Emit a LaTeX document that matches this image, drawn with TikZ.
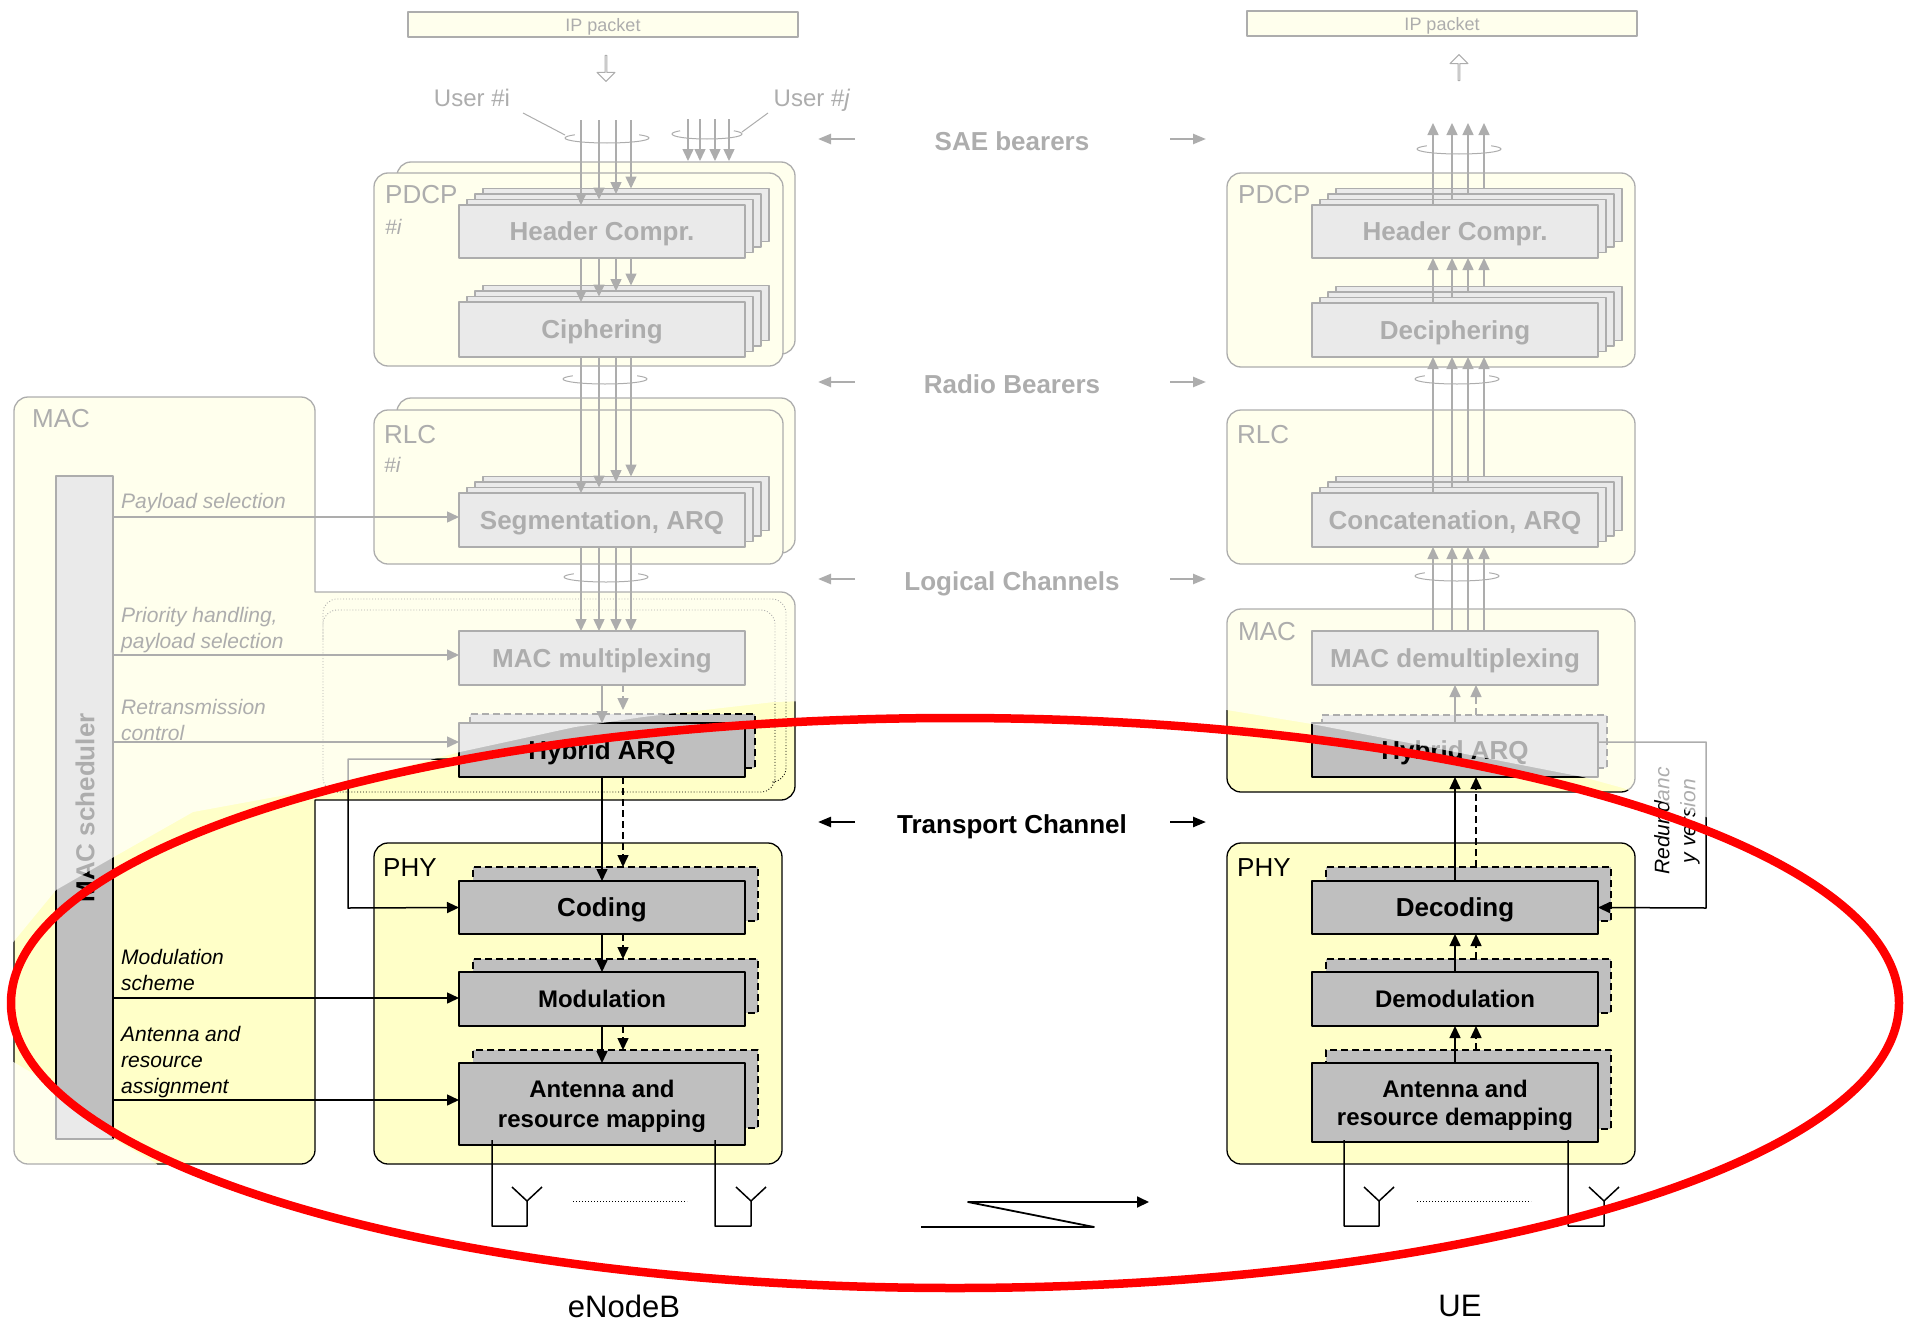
\documentclass[tikz,border=0pt]{standalone}
\usepackage{fontspec}
\setmainfont{Liberation Sans}
\usetikzlibrary{arrows.meta,shapes.arrows}
\definecolor{boxyellow}{HTML}{FFFFC8}
\definecolor{boxgray}{HTML}{BFBFBF}
\tikzset{
  layerbox/.style={draw,fill=boxyellow,line width=1.3pt,rounded corners=14pt},
  blk/.style={draw,fill=boxgray,line width=1.5pt,inner sep=0pt,outer sep=0pt,anchor=north west,minimum width=286pt,align=center,text depth=0pt,font=\fontsize{26}{31}\selectfont\bfseries},
  blksmall/.style={blk,font=\fontsize{24}{30}\selectfont\bfseries},
  backblk/.style={blk,dashed,dash pattern=on 7pt off 4pt},
  laylabel/.style={anchor=west,inner sep=0pt,font=\fontsize{26}{30}\selectfont},
  sidetext/.style={anchor=west,inner sep=0pt,align=left,font=\fontsize{21}{26}\selectfont\itshape},
  band/.style={inner sep=0pt,text depth=0pt,font=\fontsize{26}{30}\selectfont\bfseries},
  bandarr/.style={line width=2.4pt,-{Triangle[length=13pt,width=10pt]}},
  conn/.style={line width=1.5pt},
  dconn/.style={conn,dashed,dash pattern=on 7pt off 4pt},
  ipbox/.style={draw,fill=boxyellow,line width=1.2pt,inner sep=0pt,outer sep=0pt,minimum width=390pt,minimum height=25pt,text depth=0pt,font=\fontsize{18}{22}\selectfont},
  fatarrow/.style={single arrow,draw,line width=1pt,minimum width=18pt,minimum height=26pt,single arrow head extend=5pt,inner sep=0pt},
  cardtxt/.style={inner sep=0pt,text depth=0pt,font=\fontsize{24}{28}\selectfont}
}
% one block with three cards behind it
\newcommand{\stackblk}[5]{%
  \foreach \i in {3,2,1,0} {
    \node[blk,minimum height=#4pt] (#1\i) at ({#2+8*\i},{#3-5.5*\i}) {\ifnum\i=0 #5\fi};
  }%
}
% open loop round a bundle of channels
\newcommand{\loopring}[2]{%
  \draw[line width=1pt] ({#1+42},#2) arc (0:180:42 and 5);
  \draw[line width=1pt] ({#1+42},#2) arc (0:-40:42 and 5);
  \draw[line width=1pt] ({#1-42},#2) arc (180:220:42 and 5);
}
\begin{document}
\begin{tikzpicture}[x=1pt,y=-1pt,>={Triangle[length=12pt,width=11pt]},line join=round]
  \useasboundingbox (0,0) rectangle (1914,1322);
  \def\gx{623} \def\hx{1476} % dashed path, both sides

  % ---- eNodeB layers
  \node[ipbox,anchor=north west] (ipl) at (408,12) {IP packet};
  \node[fatarrow,rotate=-90] (ipldn) at (606,68) {};
  \draw[layerbox] (397,300) -- (397,162) -- (795,162) -- (795,354) -- (770,354);
  \draw[layerbox] (374,173) rectangle (783,366);
  \draw[layerbox] (397,450) -- (397,398) -- (795,398) -- (795,553) -- (770,553);
  \draw[layerbox] (374,410) rectangle (783,564);
  \draw[layerbox] (14,700) -- (14,397) -- (315,397) -- (315,500) [sharp corners] -- (315,592) -- (400,592) [rounded corners=14pt] -- (795,592) -- (795,800) -- (500,800) [sharp corners] -- (315,800) -- (315,900) [rounded corners=14pt] -- (315,1164) -- (14,1164) -- cycle;
  \draw[line width=.9pt,dotted,rounded corners=14pt] (323,792) -- (323,610) -- (775,610) -- (775,792) -- cycle;
  \draw[line width=.9pt,dotted,rounded corners=14pt] (323,640) -- (323,599) -- (786,599) -- (786,782) -- (775,782);
  \draw[layerbox] (374,843) rectangle (782,1164);
  \node[draw,fill=boxgray,line width=1.5pt,inner sep=0pt,outer sep=0pt,anchor=north west,minimum width=57pt,minimum height=663pt] (sched) at (56,476) {};
  \node[band,rotate=90] (schedtxt) at (85,808) {MAC scheduler};

  % ---- UE layers
  \node[ipbox,anchor=north west] (ipr) at (1247,11) {IP packet};
  \node[fatarrow,rotate=90] (ipru) at (1459,68) {};
  \draw[layerbox] (1227,173) rectangle (1635,367);
  \draw[layerbox] (1227,410) rectangle (1635,564);
  \draw[layerbox] (1227,609) rectangle (1635,792);
  \draw[layerbox] (1227,843) rectangle (1635,1164);

  % ---- layer names
  \foreach \n/\x/\y/\t in {pdcpl/385/195/PDCP,rlcl/384/435/RLC,macl/32/419/MAC,phyl/383/868/PHY,pdcpr/1238/195/PDCP,rlcr/1237/435/RLC,macr/1238/632/MAC,phyr/1237/868/PHY}
    \node[laylabel] (\n) at (\x,\y) {\t};
  \node[sidetext] (ibl) at (385,227) {\#i};
  \node[sidetext] (ibr) at (384,465) {\#i};

  % ---- blocks
  \stackblk{hdr}{459}{205}{53}{Header Compr.}
  \stackblk{cip}{459}{302}{55}{Ciphering}
  \stackblk{seg}{459}{493}{54}{Segmentation, ARQ}
  \stackblk{uhdr}{1312}{205}{53}{Header Compr.}
  \stackblk{udc}{1312}{303}{54}{Deciphering}
  \stackblk{useg}{1312}{493}{54}{Concatenation, ARQ}
  \node[blk,minimum height=54pt] (mux) at (459,631) {MAC multiplexing};
  \node[blk,minimum height=54pt] (udmx) at (1312,631) {MAC demultiplexing};
  \foreach \n/\x/\y/\h in {bharq/470/714/54,bcod/473/867/54,bmod/473/959/54,bant/473/1050/78,buharq/1322/715/53,bdec/1326/867/54,bdem/1326/959/54,buant/1326/1050/79}
    \node[backblk,minimum width=285pt,minimum height=\h pt] (\n) at (\x,\y) {};
  \node[blk,minimum height=54pt] (harq) at (459,723) {Hybrid ARQ};
  \node[blk,minimum height=53pt] (cod) at (459,881) {Coding};
  \node[blksmall,minimum height=54pt] (modu) at (459,972) {Modulation};
  \node[blksmall,minimum height=82pt] (ant) at (459,1063) {Antenna and\\resource mapping};
  \node[blk,minimum height=54pt] (uharq) at (1312,723) {Hybrid ARQ};
  \node[blk,minimum height=53pt] (dec) at (1312,881) {Decoding};
  \node[blksmall,minimum height=54pt] (dem) at (1312,972) {Demodulation};
  \node[blksmall,minimum height=79pt,font=\fontsize{24}{28}\selectfont\bfseries] (uant) at (1312,1063) {Antenna and\\resource demapping};

  % ---- channel bundles
  \foreach \i/\x in {0/581,1/599,2/616,3/631} {
    \draw[->,conn] (\x,120) -- (\x,0 |- hdr\i.north);
    \draw[->,conn] (\x,0 |- hdr0.south) -- (\x,0 |- cip\i.north);
    \draw[->,conn] (\x,0 |- cip0.south) -- (\x,0 |- seg\i.north);
    \draw[->,conn] (\x,0 |- seg0.south) -- (\x,0 |- mux.north);
  }
  \foreach \x in {688,700,715,729}
    \draw[->,conn] (\x,119) -- (\x,161);
  \foreach \i/\x in {0/1433,1/1452,2/1468,3/1484} {
    \draw[->,conn] (\x,0 |- uhdr\i.north) -- (\x,123);
    \draw[->,conn] (\x,0 |- udc\i.north) -- (\x,0 |- uhdr0.south);
    \draw[->,conn] (\x,0 |- useg\i.north) -- (\x,0 |- udc0.south);
    \draw[->,conn] (\x,0 |- udmx.north) -- (\x,0 |- useg0.south);
  }
  \loopring{607}{138} \loopring{605}{379} \loopring{606}{577}
  \draw[line width=1pt] (742,134) arc (0:180:35 and 5);
  \draw[line width=1pt] (742,134) arc (0:-40:35 and 5);
  \draw[line width=1pt] (672,134) arc (180:220:35 and 5);
  \loopring{1459}{149} \loopring{1457}{379} \loopring{1457}{576}
  \node[cardtxt] (usri) at (472,98) {User \#i};
  \node[cardtxt] (usrj) at (812,98) {User \#\textit{j}};
  \draw[line width=1pt] (523,113) -- (565,135);
  \draw[line width=1pt] (768,113) -- (742,132);

  % ---- transport path, eNodeB
  \draw[->,conn] (mux.south) -- (harq.north);
  \draw[->,dconn] (\gx,0 |- mux.south) -- (\gx,710);
  \draw[->,conn] (harq.south) -- (cod.north);
  \draw[->,dconn] (\gx,0 |- harq.south) -- (\gx,0 |- bcod.north);
  \draw[->,conn] (cod.south) -- (modu.north);
  \draw[->,dconn] (\gx,0 |- cod.south) -- (\gx,0 |- bmod.north);
  \draw[->,conn] (modu.south) -- (ant.north);
  \draw[->,dconn] (\gx,0 |- modu.south) -- (\gx,0 |- bant.north);
  \coordinate (rtx) at (348,908);
  \draw[->,conn] ([yshift=-9pt]harq.west) -| (rtx) -- (cod.west);
  \foreach \b/\s in {seg0/3,mux/3,harq/8,modu/1,ant/4}
    \draw[->,conn] ([yshift=\s pt]\b.west -| sched.east) -- ([yshift=\s pt]\b.west);

  % ---- transport path, UE
  \draw[->,conn] (uharq.north) -- (udmx.south);
  \draw[->,dconn] (\hx,0 |- buharq.north) -- (\hx,0 |- udmx.south);
  \draw[->,conn] (dec.north) -- (uharq.south);
  \draw[->,dconn] (\hx,0 |- bdec.north) -- (\hx,0 |- uharq.south);
  \draw[->,conn] (dem.north) -- (dec.south);
  \draw[->,dconn] (\hx,0 |- bdem.north) -- (\hx,0 |- dec.south);
  \draw[->,conn] (uant.north) -- (dem.south);
  \draw[->,dconn] (\hx,0 |- buant.north) -- (\hx,0 |- dem.south);
  \coordinate (rvx) at (1706,908);
  \draw[->,conn] ([yshift=8pt]uharq.east) -| (rvx) -- (dec.east);

  % ---- side texts
  \node[sidetext] (tpay) at (121,503) {Payload selection};
  \node[sidetext] (tpri) at (121,630) {Priority handling,\\payload selection};
  \node[sidetext] (tret) at (121,720) {Retransmission\\control};
  \node[sidetext] (tmod) at (121,970) {Modulation\\scheme};
  \node[sidetext] (tant) at (121,1062) {Antenna and\\resource\\assignment};
  \node[sidetext,rotate=90,anchor=center,align=center] (tred) at (1677,821) {Redundanc\\y version};

  % ---- channel names
  \foreach \n/\y/\t in {sae/141/SAE bearers,rad/384/Radio Bearers,lgc/581/Logical Channels,trn/824/Transport Channel} {
    \node[band] (\n) at (1012,\y) {\t};
    \draw[bandarr] (855,{\y-2}) -- (818,{\y-2});
    \draw[bandarr] (1170,{\y-2}) -- (1206,{\y-2});
  }

  % ---- antennas and radio link
  \foreach \f/\m in {492/527,715/751,1344/1379,1568/1604}
    \draw[conn] (\f,1140) -- (\f,1226) -- (\m,1226) -- (\m,1201) -- ({\m-15},1187) (\m,1201) -- ({\m+15},1187);
  \draw[dotted,line width=1pt] (573,1201) -- (687,1201);
  \draw[dotted,line width=1pt] (1417,1201) -- (1531,1201);
  \draw[->,line width=1.8pt] (921,1227) -- (1094,1227) -- (968,1202) -- (1149,1202);

  % ---- veil outside the marked zone
  \fill[white,opacity=.68,even odd rule] (0,0) rectangle (1914,1322)
    (10,946) -- (56,890) -- (112,858) -- (193,812) -- (324,788) -- (460,752) -- (575,727) -- (643,717) -- (774,702) -- (1000,695) -- (1227,710) -- (1312,724) -- (1583,777) -- (1623,788) -- (1706,817) -- (1914,900) -- (1914,1322) -- (157,1322) -- (157,1164) -- (112,1138) -- (56,1087) -- (10,1060) -- cycle;

  \node[inner sep=0pt,font=\fontsize{31}{35}\selectfont] (enb) at (624,1306) {eNodeB};
  \node[inner sep=0pt,font=\fontsize{31}{35}\selectfont] (ue) at (1460,1306) {UE};
  \draw[red,line width=8.5pt] (955,1003) ellipse (944 and 285);
\end{tikzpicture}
\end{document}
